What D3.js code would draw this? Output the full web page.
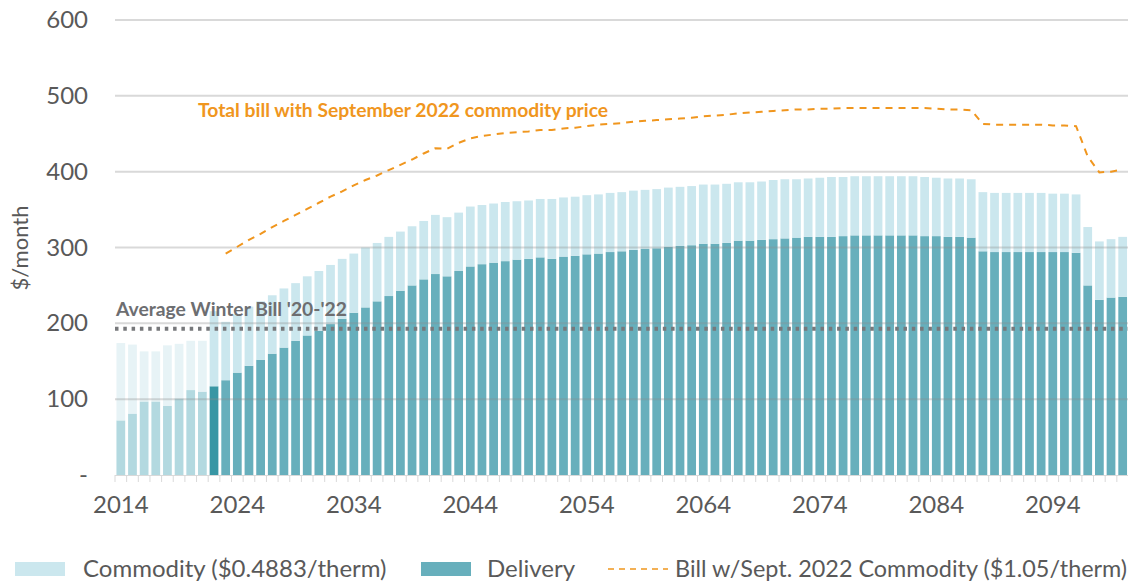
<html>
<head>
  <script src="https://d3js.org/d3.v7.min.js"></script>
  <style>
    body { margin: 0; background: #fff; }
    svg text { font-family: Lato, "Open Sans", sans-serif; }
  </style>
</head>
<body>
<div id="chart"></div>
<script>
  // years shown on the chart
  var years = [2014, 2015, 2016, 2017, 2018, 2019, 2020, 2021, 2022, 2023,
    2024, 2025, 2026, 2027, 2028, 2029, 2030, 2031, 2032, 2033,
    2034, 2035, 2036, 2037, 2038, 2039, 2040, 2041, 2042, 2043,
    2044, 2045, 2046, 2047, 2048, 2049, 2050, 2051, 2052, 2053,
    2054, 2055, 2056, 2057, 2058, 2059, 2060, 2061, 2062, 2063,
    2064, 2065, 2066, 2067, 2068, 2069, 2070, 2071, 2072, 2073,
    2074, 2075, 2076, 2077, 2078, 2079, 2080, 2081, 2082, 2083,
    2084, 2085, 2086, 2087, 2088, 2089, 2090, 2091, 2092, 2093,
    2094, 2095, 2096, 2097, 2098, 2099, 2100];

  // delivery portion ($/month)
  var delivery = [72, 81, 97, 97, 91, 101, 112, 110, 117, 125,
    135, 144, 152, 160, 168, 177, 184, 190, 199, 206,
    214, 221, 229, 236, 243, 250, 258, 265, 262, 269,
    275, 278, 280, 282, 284, 285, 287, 285, 288, 289,
    291, 292, 294, 295, 297, 298, 299, 301, 302, 303,
    305, 305, 306, 309, 309, 310, 311, 312, 313, 314,
    314, 314, 315, 316, 316, 316, 316, 316, 316, 315,
    315, 314, 314, 313, 295, 294, 294, 294, 294, 294,
    294, 294, 293, 250, 231, 234, 235];

  // commodity portion ($0.4883/therm)
  var commodity = [102, 91, 66, 66, 80, 72, 65, 67, 99, 77,
    77, 78, 77, 77, 78, 76, 78, 79, 78, 79,
    78, 79, 77, 78, 78, 78, 77, 78, 78, 77,
    79, 78, 78, 78, 77, 77, 77, 79, 78, 78,
    78, 78, 78, 78, 78, 78, 78, 78, 78, 78,
    78, 78, 78, 77, 77, 77, 78, 78, 77, 77,
    78, 79, 78, 78, 78, 78, 78, 78, 78, 78,
    77, 77, 77, 77, 78, 78, 78, 78, 78, 78,
    77, 77, 77, 77, 77, 77, 79];

  // total bill at Sept. 2022 commodity price ($1.05/therm), from 2023
  var billYears = years.slice(9);
  var bill = [292, 301, 310, 318, 327, 335, 343, 351, 359, 367,
    374, 382, 389, 395, 402, 409, 416, 424, 431, 430,
    438, 444, 447, 449, 451, 452, 453, 455, 455, 457,
    458, 460, 462, 463, 464, 466, 467, 468, 469, 470,
    471, 473, 474, 475, 477, 478, 479, 480, 481, 482,
    482, 483, 483, 484, 484, 484, 484, 484, 484, 484,
    484, 483, 482, 482, 481, 463, 462, 462, 462, 462,
    462, 461, 461, 460, 420, 399, 400, 403];

  var avgWinterBill = 193;
  var yTicks = [0, 100, 200, 300, 400, 500, 600];
  var xLabelYears = [2014, 2024, 2034, 2044, 2054, 2064, 2074, 2084, 2094];

  (function () {
    var W = 1128, H = 581;
    var plotLeft = 115, plotRight = 1128.5, plotTop = 20, base = 475;

    var svg = d3.select("#chart").append("svg")
      .attr("width", W).attr("height", H);

    var x = d3.scaleBand().domain(years).range([plotLeft, plotRight])
      .paddingInner(0.25).paddingOuter(0.125);
    var y = d3.scaleLinear().domain([0, 600]).range([base, plotTop]);

    function delColor(yr) {
      if (yr < 2022) return "#b3d9e0";
      if (yr == 2022) return "#3896a4";
      return "#67afbc";
    }
    function comColor(yr) {
      return yr < 2022 ? "#e7f3f6" : "#cbe7ee";
    }

    // bars
    var bars = svg.append("g");
    bars.selectAll(".del").data(years).enter().append("rect")
      .attr("x", function (d) { return x(d); })
      .attr("width", x.bandwidth())
      .attr("y", function (d, i) { return y(delivery[i]); })
      .attr("height", function (d, i) { return base - y(delivery[i]); })
      .attr("fill", delColor);
    bars.selectAll(".com").data(years).enter().append("rect")
      .attr("x", function (d) { return x(d); })
      .attr("width", x.bandwidth())
      .attr("y", function (d, i) { return y(delivery[i] + commodity[i]); })
      .attr("height", function (d, i) { return y(delivery[i]) - y(delivery[i] + commodity[i]); })
      .attr("fill", comColor);

    // gridlines (drawn over the bars, semi transparent)
    svg.append("g").selectAll("line").data(yTicks.slice(1)).enter().append("line")
      .attr("x1", plotLeft).attr("x2", W)
      .attr("y1", function (d) { return y(d); })
      .attr("y2", function (d) { return y(d); })
      .attr("stroke", "#8c8c8c").attr("stroke-opacity", 0.33).attr("stroke-width", 2);

    // x axis baseline + ticks at band edges
    var step = x.step();
    svg.append("line").attr("x1", plotLeft).attr("x2", W)
      .attr("y1", base + 0.5).attr("y2", base + 0.5)
      .attr("stroke", "#d9d9d9").attr("stroke-width", 1);
    svg.append("g").selectAll("line").data(d3.range(years.length + 1)).enter().append("line")
      .attr("x1", function (i) { return plotLeft + i * step; })
      .attr("x2", function (i) { return plotLeft + i * step; })
      .attr("y1", base).attr("y2", base + 7)
      .attr("stroke", "#d9d9d9").attr("stroke-width", 1);

    // y tick labels
    svg.append("g").selectAll("text").data(yTicks).enter().append("text")
      .attr("x", 88)
      .attr("y", function (d) { return y(d) + 8; })
      .attr("text-anchor", "end")
      .attr("fill", "#595959")
      .style("font-size", "24px")
      .text(function (d) { return d == 0 ? "-" : d; });

    // x labels
    svg.append("g").selectAll("text").data(xLabelYears).enter().append("text")
      .attr("x", function (d) { return x(d) + x.bandwidth() / 2; })
      .attr("y", 513)
      .attr("text-anchor", "middle")
      .attr("fill", "#595959")
      .style("font-size", "24px")
      .text(function (d) { return d; });

    // y axis title
    svg.append("text")
      .attr("transform", "translate(28,248) rotate(-90)")
      .attr("text-anchor", "middle")
      .attr("fill", "#595959")
      .style("font-size", "22px")
      .text("$/month");

    // average winter bill line
    svg.append("line")
      .attr("x1", plotLeft).attr("x2", W)
      .attr("y1", y(avgWinterBill)).attr("y2", y(avgWinterBill))
      .attr("stroke", "#77787b").attr("stroke-width", 4)
      .attr("stroke-dasharray", "3.5,4.8");
    svg.append("text")
      .attr("x", 116).attr("y", 316)
      .attr("fill", "#6d6e71")
      .style("font-size", "19.3px").style("font-weight", "bold")
      .text("Average Winter Bill '20-'22");

    // bill line
    var line = d3.line()
      .x(function (d, i) { return x(billYears[i]) + x.bandwidth() / 2; })
      .y(function (d) { return y(d); });
    svg.append("path").datum(bill)
      .attr("d", line)
      .attr("fill", "none")
      .attr("stroke", "#f0961e").attr("stroke-width", 2)
      .attr("stroke-dasharray", "7,6");
    svg.append("text")
      .attr("x", 198).attr("y", 117)
      .attr("fill", "#f0961e")
      .style("font-size", "19.3px").style("font-weight", "bold")
      .text("Total bill with September 2022 commodity price");

    // legend
    var lg = svg.append("g").style("font-size", "24px").attr("fill", "#595959");
    lg.append("rect").attr("x", 15).attr("y", 562).attr("width", 50).attr("height", 14).attr("fill", "#cbe7ee");
    lg.append("text").attr("x", 83).attr("y", 577).text("Commodity ($0.4883/therm)");
    lg.append("rect").attr("x", 421).attr("y", 562).attr("width", 50).attr("height", 14).attr("fill", "#67afbc");
    lg.append("text").attr("x", 487).attr("y", 577).text("Delivery");
    lg.append("line").attr("x1", 608).attr("x2", 668).attr("y1", 569).attr("y2", 569)
      .attr("stroke", "#f0961e").attr("stroke-width", 1.5).attr("stroke-dasharray", "6,5");
    lg.append("text").attr("x", 675).attr("y", 577).style("font-size", "23.4px")
      .text("Bill w/Sept. 2022 Commodity ($1.05/therm)");
  })();
</script>
</body>
</html>
